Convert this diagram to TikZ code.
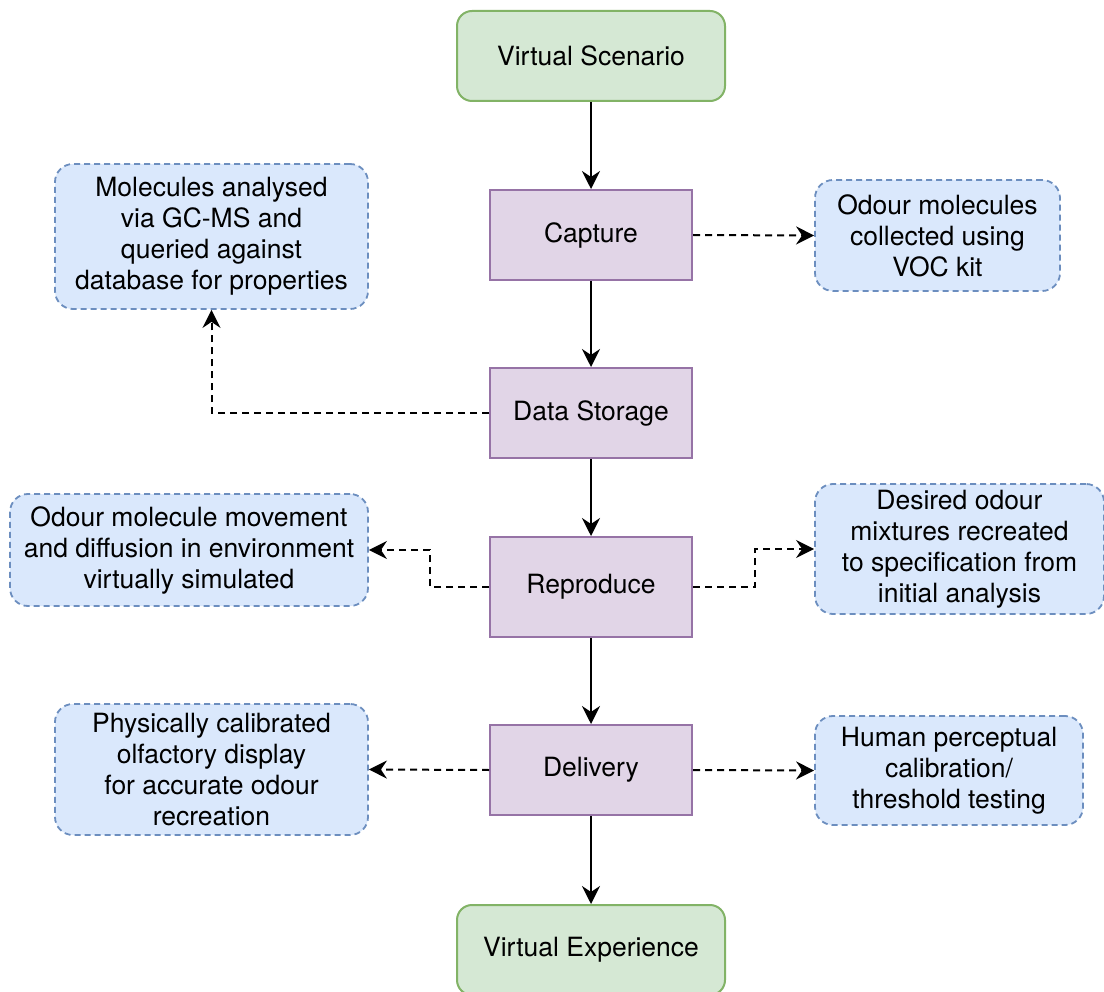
\documentclass[tikz,border=0pt]{standalone}
\usepackage{fontspec}
\setmainfont{TeX Gyre Heros}
\usetikzlibrary{arrows.meta}

\definecolor{termfill}{HTML}{D5E8D4}
\definecolor{termline}{HTML}{82B366}
\definecolor{stagefill}{HTML}{E1D5E7}
\definecolor{stageline}{HTML}{9673A6}
\definecolor{notefill}{HTML}{DAE8FC}
\definecolor{noteline}{HTML}{6C8EBF}

\tikzset{
  x=1pt, y=-1pt,
  every node/.style={font=\fontsize{26.5}{31}\selectfont, align=center, inner sep=0pt},
  terminal/.style={draw=termline, fill=termfill, line width=2pt, rounded corners=15pt,
                   minimum width=268pt, minimum height=90pt},
  stagebox/.style={draw=stageline, fill=stagefill, line width=2pt,
                   minimum width=202pt, minimum height=90pt},
  notebox/.style={draw=noteline, fill=notefill, line width=1.8pt, rounded corners=18pt,
                  dash pattern=on 6pt off 4pt},
  tip/.style={-{Stealth[length=18pt,width=18pt,inset=6pt]}},
  flow/.style={draw=black, line width=2pt, tip},
  aside/.style={draw=black, line width=2pt, dash pattern=on 7pt off 5pt, tip}
}

\begin{document}
\begin{tikzpicture}
\clip (0,0) rectangle (1104,992);
\fill[white] (0,0) rectangle (1104,992);

% main chain
\node[terminal] (scen) at (591,56) {Virtual Scenario};
\node[stagebox] (cap) at (591,235) {Capture};
\node[stagebox] (store) at (591,413) {Data Storage};
\node[stagebox, minimum height=100pt] (rep) at (591,587) {Reproduce};
\node[stagebox] (del) at (591,770) {Delivery};
\node[terminal] (exp) at (591,950) {Virtual Experience};

% side notes
\node[notebox, minimum width=313pt, minimum height=145pt] (gcms) at (211.5,236.5)
  {Molecules analysed\\via GC-MS and\\queried against\\database for properties};
\node[notebox, minimum width=245pt, minimum height=111pt] (voc) at (937.5,235.5)
  {Odour molecules\\collected using\\VOC kit};
\node[notebox, minimum width=358pt, minimum height=112pt] (sim) at (189,550)
  {Odour molecule movement\\and diffusion in environment\\virtually simulated};
\node[notebox, minimum width=289pt, minimum height=130pt] (mix) at (959.5,549)
  {Desired odour\\mixtures recreated\\to specification from\\initial analysis};
\node[notebox, minimum width=313pt, minimum height=131pt] (disp) at (211.5,769.5)
  {Physically calibrated\\olfactory display\\for accurate odour\\recreation};
\node[notebox, minimum width=268pt, minimum height=109pt] (human) at (949,770.5)
  {Human perceptual\\calibration/\\threshold testing};

% solid flow
\draw[flow] (scen) -- (cap);
\draw[flow] (cap) -- (store);
\draw[flow] (store) -- (rep);
\draw[flow] (rep) -- (del);
\draw[flow] (del) -- (exp);

% dashed side links
\draw[aside] (cap.east) -- (voc.west);
\draw[aside] (store.west) -| (gcms.south);
\draw[aside] (rep.west) -- ++(-59,0) |- (sim.east);
\draw[aside] (rep.east) -- ++(62,0) |- (mix.west);
\draw[aside] (del.west) -- (disp.east);
\draw[aside] (del.east) -- (human.west);
\end{tikzpicture}
\end{document}
